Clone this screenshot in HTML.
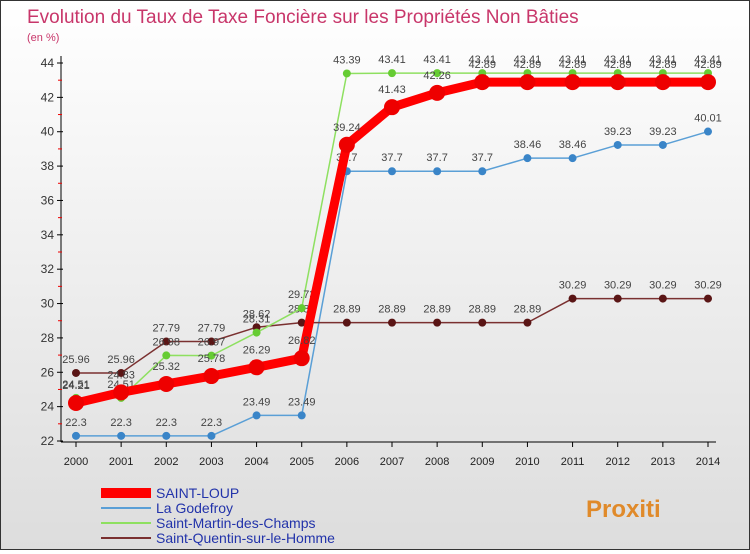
<!DOCTYPE html>
<html><head><meta charset="utf-8"><style>
body{margin:0;width:750px;height:550px;overflow:hidden;font-family:"Liberation Sans",sans-serif}
#wrap{position:relative;width:748px;height:548px;border:1px solid #333;background:linear-gradient(#fff,#ddd)}
</style></head><body>
<div id="wrap">
<svg id="c" width="748" height="548" xmlns="http://www.w3.org/2000/svg">
<text x="26" y="22" font-size="19" fill="#c8366a">Evolution du Taux de Taxe Foncière sur les Propriétés Non Bâties</text>
<text x="26" y="40" font-size="11" fill="#c8366a">(en %)</text>
<g id="g"></g>
</svg></div>
<script>
const years=[2000,2001,2002,2003,2004,2005,2006,2007,2008,2009,2010,2011,2012,2013,2014];
const saintLoup=[24.21,24.83,25.32,25.78,26.29,26.82,39.24,41.43,42.26,42.89,42.89,42.89,42.89,42.89,42.89];
const laGodefroy=[22.3,22.3,22.3,22.3,23.49,23.49,37.7,37.7,37.7,37.7,38.46,38.46,39.23,39.23,40.01];
const saintMartin=[24.51,24.51,26.98,26.97,28.31,29.73,43.39,43.41,43.41,43.41,43.41,43.41,43.41,43.41,43.41];
const saintQuentin=[25.96,25.96,27.79,27.79,28.62,28.89,28.89,28.89,28.89,28.89,28.89,30.29,30.29,30.29,30.29];
const yTicks=[22,24,26,28,30,32,34,36,38,40,42,44];
const names=["SAINT-LOUP","La Godefroy","Saint-Martin-des-Champs","Saint-Quentin-sur-le-Homme"];
const NS="http://www.w3.org/2000/svg",g=document.getElementById('g');
const X=i=>75+i*(632/14), Y=v=>440-(v-22)*(378/22);
function mk(t,a,p){const e=document.createElementNS(NS,t);for(const k in a)e.setAttribute(k,a[k]);(p||g).appendChild(e);return e;}
let ax=mk('line',{x1:60,y1:55,x2:60,y2:441,stroke:'#000'});


let bx=mk('line',{x1:60,y1:441,x2:715,y2:441,stroke:'#000'});


yTicks.forEach(v=>{
 mk('line',{x1:56,x2:62,y1:Y(v),y2:Y(v),stroke:'#000'});
 if(v<44)mk('line',{x1:57,x2:61,y1:Y(v+1),y2:Y(v+1),stroke:'#e00'});
 const t=mk('text',{x:53,y:Y(v)+4,'font-size':12,'text-anchor':'end',fill:'#333'});t.textContent=v;
 
 
});
years.forEach((yr,i)=>{
 mk('line',{x1:X(i),x2:X(i),y1:441,y2:446,stroke:'#000'});
 const t=mk('text',{x:X(i),y:464,'font-size':11,'text-anchor':'middle',fill:'#222'});t.textContent=yr;
 
 
});
const series=[
 {d:laGodefroy,c:'#5a9fd6',dot:'#3a85c8',w:1.5,r:4},
 {d:saintQuentin,c:'#7a3030',dot:'#5a1515',w:1.5,r:4},
 {d:saintMartin,c:'#8ee060',dot:'#66cc33',w:1.5,r:4},
 {d:saintLoup,c:'#f00',dot:'#e00',w:9,r:8}];
const keys=['la-godefroy','saint-quentin','saint-martin','saint-loup'];
series.forEach((s,k)=>{
 const sg=mk('g',{});
 
 
 const p=mk('polyline',{points:s.d.map((v,i)=>X(i)+','+Y(v)).join(' '),fill:'none',stroke:s.c,'stroke-width':s.w,'stroke-linejoin':'round'},sg);
 
 
 s.d.forEach((v,i)=>{
  const c=mk('circle',{cx:X(i),cy:Y(v),r:s.r,fill:s.dot},sg);
  
  
  const t=mk('text',{x:X(i),y:Y(v)-(s.r+6),'font-size':11,'text-anchor':'middle',fill:'#444'},sg);t.textContent=v;
  
  
 });
});
const lc=['#f00','#5a9fd6','#8ee060','#7a3030'],lw=[10,2,2,2];
names.forEach((n,i)=>{
 const y=492+i*15;
 const lg=mk('g',{});
 
 
 mk('line',{x1:100,x2:150,y1:y,y2:y,stroke:lc[i],'stroke-width':lw[i]},lg);
 const t=mk('text',{x:155,y:y+5,'font-size':14,fill:'#2233aa'},lg);t.textContent=n;
});
const lo=mk('text',{x:585,y:516,'font-size':24,'font-weight':'bold',fill:'#e08a2a'});
lo.textContent='Proxiti';


</script>
</body></html>
